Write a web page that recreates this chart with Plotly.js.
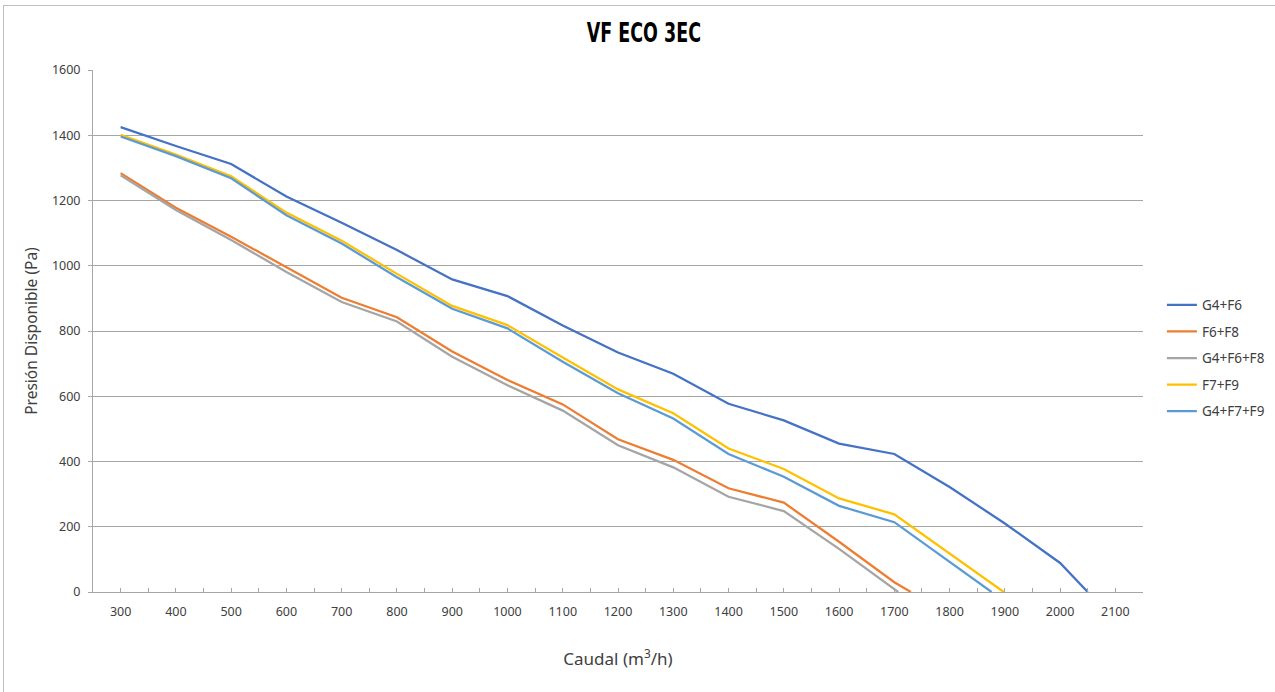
<!DOCTYPE html>
<html>
<head>
<meta charset="utf-8">
<script src="https://cdn.plot.ly/plotly-3.0.1.min.js"></script>
<style>
  html, body { margin: 0; padding: 0; background: #fff; overflow: hidden; }
  #chart { position: absolute; left: 0; top: 0; width: 1275px; height: 692px; }
  #frame { position: absolute; left: 3px; top: 5px; width: 1400px; height: 900px; border: 1px solid #bfbfbf; pointer-events: none; }
</style>
</head>
<body>
<div id="chart"></div>
<div id="frame"></div>
<script>
// Series names
const seriesNames = ["G4+F6", "F6+F8", "G4+F6+F8", "F7+F9", "G4+F7+F9"];

// Flow (m3/h) values per series
const xG4F6    = [300, 400, 500, 600, 700, 800, 900, 1000, 1100, 1200, 1300, 1400, 1500, 1600, 1700, 1800, 1900, 2000, 2050];
const xF6F8    = [300, 400, 500, 600, 700, 800, 900, 1000, 1100, 1200, 1300, 1400, 1500, 1600, 1700, 1730];
const xG4F6F8  = [300, 400, 500, 600, 700, 800, 900, 1000, 1100, 1200, 1300, 1400, 1500, 1600, 1707];
const xF7F9    = [300, 400, 500, 600, 700, 800, 900, 1000, 1100, 1200, 1300, 1400, 1500, 1600, 1700, 1800, 1898];
const xG4F7F9  = [300, 400, 500, 600, 700, 800, 900, 1000, 1100, 1200, 1300, 1400, 1500, 1600, 1700, 1800, 1876];

// Available pressure (Pa) values per series
const yG4F6    = [1425, 1367, 1312, 1212, 1132, 1048, 958, 907, 817, 734, 669, 577, 526, 455, 423, 322, 210, 89, 0];
const yF6F8    = [1284, 1178, 1089, 996, 902, 842, 737, 650, 575, 468, 405, 318, 274, 154, 30, 0];
const yG4F6F8  = [1277, 1171, 1079, 981, 889, 829, 721, 634, 556, 450, 382, 292, 248, 132, 0];
const yF7F9    = [1401, 1341, 1274, 1163, 1077, 975, 877, 818, 719, 621, 548, 440, 377, 287, 238, 119, 0];
const yG4F7F9  = [1396, 1336, 1268, 1155, 1068, 965, 868, 808, 706, 609, 532, 423, 353, 264, 214, 92, 0];

// X tick labels
const xTickVals = [300, 400, 500, 600, 700, 800, 900, 1000, 1100, 1200, 1300, 1400, 1500, 1600, 1700, 1800, 1900, 2000, 2100];
const xTickText = xTickVals.map(String);

const colors = ["#4472C4", "#ED7D31", "#A5A5A5", "#FFC000", "#5B9BD5"];
const xs = [xG4F6, xF6F8, xG4F6F8, xF7F9, xG4F7F9];
const ys = [yG4F6, yF6F8, yG4F6F8, yF7F9, yG4F7F9];

const textFont = "Noto Sans, Liberation Sans, sans-serif";

const traces = seriesNames.map((name, i) => ({
  type: "scatter",
  mode: "lines",
  name: name,
  x: xs[i],
  y: ys[i],
  legendgroup: "g" + i,
  line: { color: colors[i], width: 2.25 },
  hoverinfo: "x+y+name"
}));

const layout = {
  width: 1275,
  height: 692,
  paper_bgcolor: "rgba(0,0,0,0)",
  plot_bgcolor: "#ffffff",
  margin: { l: 93, r: 132, t: 70, b: 100, pad: 0, autoexpand: false },
  title: {
    text: "<b>VF ECO 3EC</b>",
    font: { family: "Liberation Sans Narrow, DejaVu Sans Condensed, Arial Narrow, Noto Sans, sans-serif", size: 27, color: "#000000" },
    x: 0.505,
    xanchor: "center",
    y: 0.953,
    yanchor: "middle"
  },
  xaxis: {
    range: [250, 2150],
    tickmode: "array",
    tickvals: xTickVals,
    ticktext: xTickText,
    ticks: "inside",
    ticklen: 4,
    tickcolor: "#a6a6a6",
    ticklabelstandoff: 8,
    minor: { dtick: 50, tick0: 250, ticks: "inside", ticklen: 4, tickcolor: "#a6a6a6", showgrid: false },
    showgrid: false,
    zeroline: false,
    showline: true,
    linecolor: "#a6a6a6",
    linewidth: 1,
    tickfont: { family: textFont, size: 12.5, color: "#404040" },
    title: {
      text: "Caudal (m<sup>3</sup>/h)",
      font: { family: textFont, size: 17, color: "#404040" },
      standoff: 34
    }
  },
  yaxis: {
    range: [0, 1600],
    dtick: 200,
    tick0: 0,
    ticks: "outside",
    ticklen: 4,
    tickcolor: "#a6a6a6",
    ticklabelstandoff: 5,
    showgrid: true,
    gridcolor: "#a6a6a6",
    gridwidth: 1,
    zeroline: false,
    showline: true,
    linecolor: "#a6a6a6",
    linewidth: 1,
    tickfont: { family: textFont, size: 12.5, color: "#404040" },
    title: {
      text: "Presión Disponible (Pa)",
      font: { family: textFont, size: 15.5, color: "#404040" },
      standoff: 10
    }
  },
  showlegend: true,
  legend: {
    x: 1.018,
    xanchor: "left",
    y: 0.448,
    yanchor: "middle",
    traceorder: "grouped",
    tracegroupgap: 6,
    font: { family: textFont, size: 13.5, color: "#404040" },
    bgcolor: "rgba(0,0,0,0)",
    borderwidth: 0,
    itemwidth: 30
  }
};

Plotly.newPlot("chart", traces, layout, { displayModeBar: false, staticPlot: true }).then(function (gd) {
  // Narrow the title glyphs to mimic the condensed typeface of the reference
  const t = gd.querySelector(".gtitle");
  if (t) {
    t.style.transformBox = "fill-box";
    t.style.transformOrigin = "center";
    t.style.transform = "scaleX(0.72)";
  }
});
</script>
</body>
</html>
